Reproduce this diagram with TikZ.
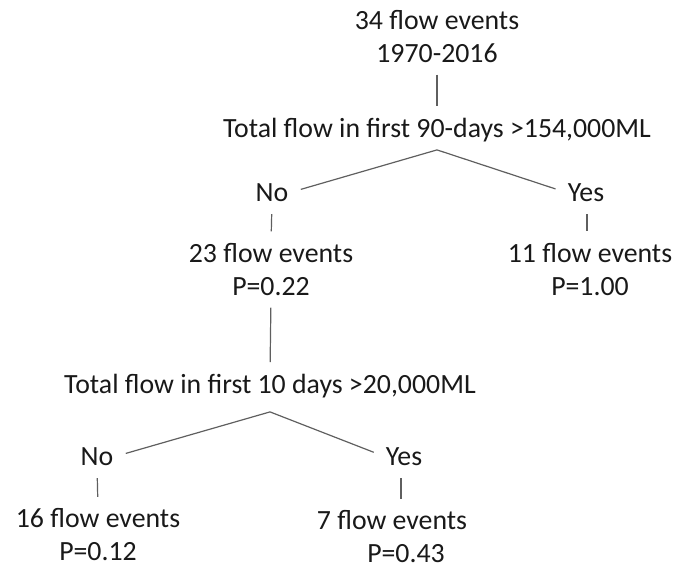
\documentclass[tikz,border=0pt]{standalone}
\usepackage{fontspec}
\setmainfont{Carlito}
\usetikzlibrary{positioning}
\definecolor{linegray}{RGB}{95,95,95}
\definecolor{textblack}{RGB}{25,25,25}

\begin{document}
\begin{tikzpicture}[x=0.5pt,y=-0.5pt,line width=0.6pt]
  \tikzstyle{every node}=[inner sep=0pt,outer sep=0pt,text=textblack,align=center,
                          font=\fontsize{13.9}{16.5}\selectfont]
  \tikzstyle{stem}=[draw=linegray,shorten <=6pt,shorten >=6pt]
  \tikzstyle{branch}=[draw=linegray,shorten >=6.5pt]

  \useasboundingbox (0,0) rectangle (690,569);

  \node (events)  at (437,36.5)  {34 flow events\\1970-2016};
  \node (first90) at (437,130)   {Total flow in first 90-days >154,000ML};
  \node (no90)    at (272,193)   {No};
  \node (yes90)   at (586,193)   {Yes};
  \node (ev23)    at (271,269.5) {23 flow events\\P=0.22};
  \node (ev11)    at (590,269.5) {11 flow events\\P=1.00};
  \node (first10) at (270,386)   {Total flow in first 10 days >20,000ML};
  \node (no10)    at (97,457)    {No};
  \node (yes10)   at (404,457)   {Yes};
  \node (ev16)    at (98,535)    {16 flow events\\P=0.12};
  \node (ev7)     at (392,537)   {7 flow events\\\hspace*{14pt}P=0.43};

  \coordinate (split90) at ([yshift=-4pt]first90.south);
  \coordinate (split10) at ([yshift=-7pt]first10.south);

  \draw[stem] (events.south) -- (first90.north);
  \draw[branch] (split90) -- (no90.east);
  \draw[branch] (split90) -- (yes90.west);
  \draw[stem] (no90.south) -- (ev23.north);
  \draw[stem] ([xshift=0.5pt]yes90.south) -- ([xshift=0.5pt]yes90.south |- ev11.north);
  \draw[stem] (ev23.south) -- (first10.north);
  \draw[branch] (split10) -- (no10.east);
  \draw[branch] (split10) -- (yes10.west);
  \draw[stem] (no10.south) -- (ev16.north);
  \draw[stem] ([xshift=-1.5pt]yes10.south) -- ([xshift=-1.5pt]yes10.south |- ev7.north);

\end{tikzpicture}
\end{document}
